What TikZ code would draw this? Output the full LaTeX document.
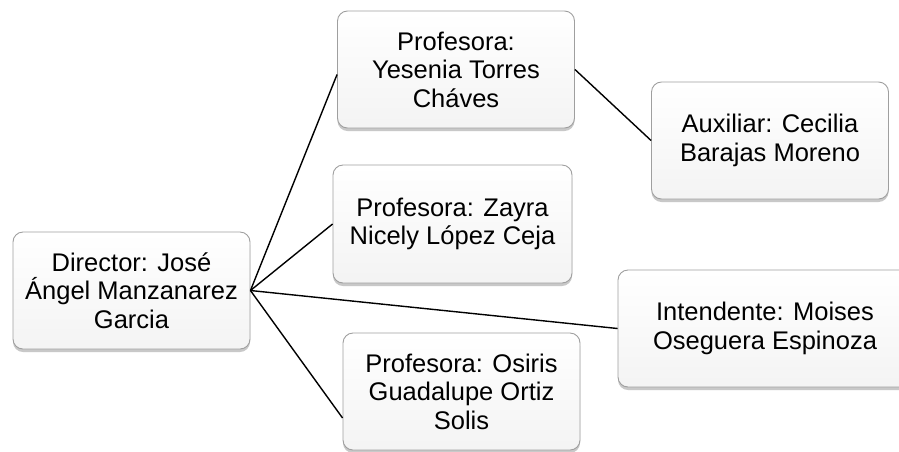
\documentclass[tikz,border=0pt]{standalone}
\usepackage{fontspec}
\setmainfont{Liberation Sans}
\usetikzlibrary{shadows,calc}
\tikzset{
  orgbox/.style={draw=gray!75, line width=0.9pt, rounded corners=10pt,
    top color=white, bottom color=gray!9, align=center,
    minimum width=237pt, minimum height=117pt, inner sep=0pt,
    font=\fontsize{25.5}{28.5}\selectfont,
    drop shadow={shadow xshift=0pt, shadow yshift=-3pt, opacity=0.3, fill=black!70}},
  link/.style={draw=black, line width=1.4pt}
}
\begin{document}
\begin{tikzpicture}[x=1pt,y=-1pt]
\clip (0,0) rectangle (899,451);
\fill[white] (0,0) rectangle (899,451);
\node[orgbox] (dir) at (131.5,290.5) {Director: José\\Ángel Manzanarez\\Garcia};
\node[orgbox] (yes) at (456,69.5) {Profesora:\\Yesenia Torres\\Cháves};
\node[orgbox] (aux) at (770,140.5) {Auxiliar: Cecilia\\Barajas Moreno};
\node[orgbox, minimum width=239pt, minimum height=118pt] (zay) at (452.5,224) {Profesora: Zayra\\Nicely López Ceja};
\node[orgbox, minimum width=294pt] (int) at (765,328.5) {Intendente: Moises\\Oseguera Espinoza};
\node[orgbox] (osi) at (461.5,391.5) {Profesora: Osiris\\Guadalupe Ortiz\\Solis};
\draw[link] (dir.east) -- ($(yes.west)+(0,5)$);
\draw[link] (dir.east) -- (zay.west);
\draw[link] (dir.east) -- (int.west);
\draw[link] (dir.east) -- ($(osi.west)+(0,26.5)$);
\draw[link] (yes.east) -- (aux.west);
\end{tikzpicture}
\end{document}
